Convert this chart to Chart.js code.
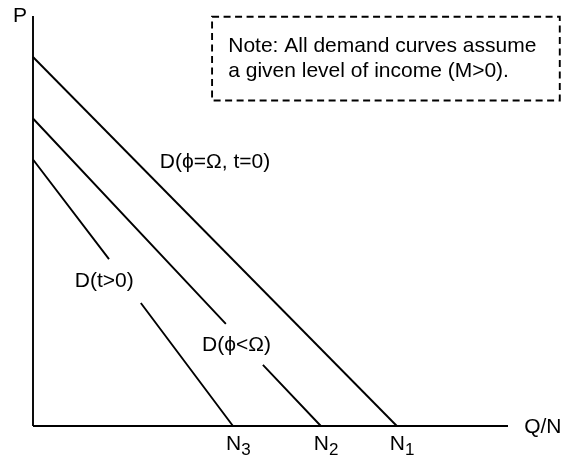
<!DOCTYPE html>
<html>
<head>
<meta charset="utf-8">
<script src="https://cdn.jsdelivr.net/npm/chart.js@4/dist/chart.umd.min.js"></script>
<style>
  html, body { margin: 0; padding: 0; background: #ffffff; }
  #wrap { width: 565px; height: 459px; }
</style>
</head>
<body>
<div id="wrap"><canvas id="c" width="565" height="459"></canvas></div>
<script>
// ---- data (units: P and Q/N on a 0..100 scale) ----
const curveNames = ['D(\u03D5=\u03A9, t=0)', 'D(\u03D5<\u03A9)', 'D(t>0)'];
const priceIntercepts = [90, 75, 65];          // P where each demand curve meets the P axis
const quantityIntercepts = [76.6, 60.6, 42.1]; // N1, N2, N3 on the Q/N axis
const gapStartX = [null, 40.6, 16.0];          // where the line breaks for its label
const gapStartY = [null, 24.9, 40.7];
const gapEndX = [null, 48.4, 22.7];
const gapEndY = [null, 14.9, 30.0];
const tickMain = ['N', 'N', 'N'];
const tickSub = ['1', '2', '3'];
const axisTitles = ['Q/N', 'P'];
const noteLines = ['Note: All demand curves assume', 'a given level of income (M>0).'];

// label anchor positions (data units)
const curveLabelX = [26.7, 35.6, 8.8];
const curveLabelY = [62.9, 18.3, 33.9];

const FONT = '"Liberation Sans", Arial, Helvetica, sans-serif';

function curveData(i) {
  const pts = [{ x: 0, y: priceIntercepts[i] }];
  if (gapStartX[i] !== null) {
    pts.push({ x: gapStartX[i], y: gapStartY[i] });
    pts.push({ x: (gapStartX[i] + gapEndX[i]) / 2, y: null });
    pts.push({ x: gapEndX[i], y: gapEndY[i] });
  }
  pts.push({ x: quantityIntercepts[i], y: 0 });
  return pts;
}

const lineStyle = {
  borderColor: '#000',
  borderWidth: 1.9,
  pointRadius: 0,
  fill: false,
  tension: 0,
  spanGaps: false,
  clip: false
};

const datasets = [
  Object.assign({ label: 'xaxis', data: [{ x: 0, y: 0 }, { x: 100, y: 0 }] }, lineStyle),
  Object.assign({ label: 'yaxis', data: [{ x: 0, y: 0 }, { x: 0, y: 100 }] }, lineStyle)
];
curveNames.forEach((n, i) => {
  datasets.push(Object.assign({ label: n, data: curveData(i) }, lineStyle));
});

const annotations = {
  id: 'annotations',
  afterDatasetsDraw(chart) {
    const ctx = chart.ctx;
    const xs = chart.scales.x, ys = chart.scales.y;
    const X = v => xs.getPixelForValue(v);
    const Y = v => ys.getPixelForValue(v);
    ctx.save();
    ctx.fillStyle = '#000';
    ctx.textBaseline = 'alphabetic';
    ctx.textAlign = 'left';
    ctx.font = '21px ' + FONT;

    // axis titles
    ctx.fillText(axisTitles[1], X(-4.2), Y(98.5));
    ctx.fillText(axisTitles[0], X(103.4), Y(-1.7));

    // curve labels
    curveNames.forEach((n, i) => {
      ctx.fillText(n, X(curveLabelX[i]), Y(curveLabelY[i]));
    });

    // N ticks with subscripts
    quantityIntercepts.forEach((q, i) => {
      const px = X(q) - 7;
      const py = Y(0) + 24;
      ctx.font = '21px ' + FONT;
      ctx.fillText(tickMain[i], px, py);
      const w = ctx.measureText(tickMain[i]).width;
      ctx.font = '17px ' + FONT;
      ctx.fillText(tickSub[i], px + w, py + 5);
    });

    // note box
    ctx.font = '21px ' + FONT;
    const bx0 = X(37.7), bx1 = X(110.9), by0 = Y(99.8), by1 = Y(79.4);
    ctx.strokeStyle = '#000';
    ctx.lineWidth = 1.9;
    ctx.setLineDash([7, 4.5]);
    ctx.strokeRect(bx0, by0, bx1 - bx0, by1 - by0);
    ctx.setLineDash([]);
    ctx.fillText(noteLines[0], X(41.1), Y(91.2));
    ctx.fillText(noteLines[1], X(41.1), Y(85.1));
    ctx.restore();
  }
};

new Chart(document.getElementById('c'), {
  type: 'line',
  data: { datasets },
  options: {
    responsive: false,
    animation: false,
    devicePixelRatio: 1,
    layout: { padding: { left: 33, right: 57, top: 16, bottom: 33 } },
    plugins: { legend: { display: false }, tooltip: { enabled: false } },
    scales: {
      x: { type: 'linear', min: 0, max: 100, display: false },
      y: { type: 'linear', min: 0, max: 100, display: false }
    }
  },
  plugins: [annotations]
});
</script>
</body>
</html>
